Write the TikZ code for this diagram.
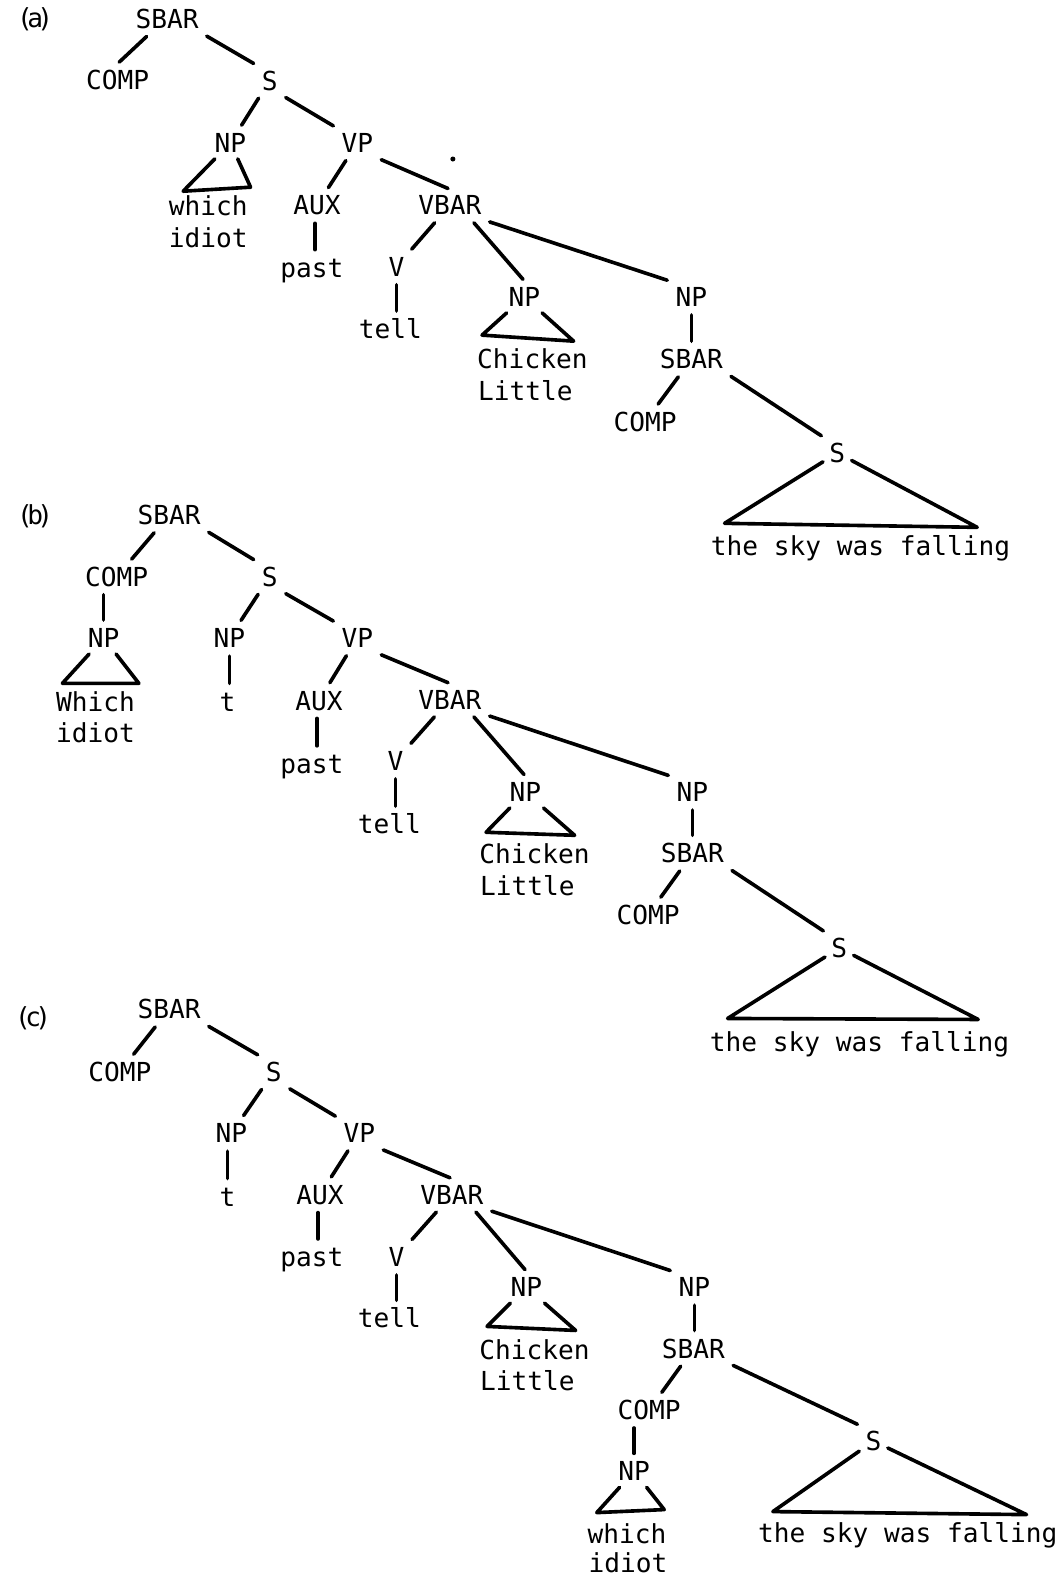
\documentclass[tikz,border=0pt]{standalone}
\usepackage{fontspec}
\setmainfont{DejaVu Sans Mono}
\usetikzlibrary{calc}
\newcommand\treefont{\fontsize{13}{15}\selectfont}
\newcommand\tightlab[1]{(\kern-2.8pt#1\kern-2.8pt)}
\begin{document}
\begin{tikzpicture}[x=0.5pt,y=-0.5pt,
  lab/.style={font=\treefont, inner sep=3pt, text height=9.5pt, text depth=0pt},
  br/.style={line width=1.8pt, line cap=round, line join=round, shorten <=1pt, shorten >=1pt},
  tri/.style={line width=1.8pt, line cap=round, line join=round}]
\useasboundingbox[fill=white] (0,0) rectangle (1056,1568);

% ---------------- (a) ----------------
\node[lab] (aLab) at (35,18) {\tightlab{a}};
\node[lab] (aSBAR) at (166,19) {SBAR};
\node[lab] (aCOMP) at (117,79) {COMP};
\node[lab] (aS) at (268,80) {S};
\node[lab] (aNP) at (229,142) {NP};
\node[lab] (aVP) at (355,142) {VP};
\node[lab] (aW1) at (207,205) {which};
\node[lab] (aW2) at (207,236) {idiot};
\node[lab] (aAUX) at (315,204) {AUX};
\node[lab] (aPast) at (310,266) {past};
\node[lab] (aVBAR) at (447,204) {VBAR};
\node[lab] (aV) at (394,265) {V};
\node[lab] (aTell) at (388,327) {tell};
\node[lab] (aNPb) at (521,295) {NP};
\node[lab] (aCh) at (529,357) {Chicken};
\node[lab] (aLi) at (522,388) {Little};
\node[lab] (aNPc) at (687,295) {NP};
\node[lab] (aSBARb) at (687,357) {SBAR};
\node[lab] (aCOMPb) at (641,419) {COMP};
\node[lab] (aSb) at (832,450) {S};
\node[lab] (aSky) at (855,542) {the sky was falling};
\coordinate (aT1) at (182,190); \coordinate (aT2) at (249,186);
\coordinate (aT3) at (479,333); \coordinate (aT4) at (570,339);
\coordinate (aT5) at (720,520); \coordinate (aT6) at (971,524);
\fill (450,158) circle (2.5);

\draw[br] ($(aSBAR.south)!0.5!(aSBAR.south west)$) -- (aCOMP.north);
\draw[br] (aSBAR.south east) -- (aS.north west);
\draw[br] (aS) -- (aNP);
\draw[br] (aS.south east) -- (aVP.north west);
\draw[br] (aVP) -- (aAUX);
\draw[br] (aVP.south east) -- (aVBAR.north);
\draw[br] (aAUX.south -| 313,0) -- (aPast.north -| 313,0);
\draw[br] (aVBAR) -- (aV);
\draw[br] ($(aVBAR.south)!0.6!(aVBAR.south east)$) -- (aNPb.north);
\draw[br] (aVBAR.south east) -- (aNPc.north west);
\draw[br] (aV.south) -- (aV.south |- aTell.north);
\draw[br] (aNPc.south) -- (aNPc.south |- aSBARb.north);
\draw[br] (aSBARb) -- (aCOMPb);
\draw[br] (aSBARb.south east) -- (aSb.north west);
\draw[tri] (aNP) -- (aT1) -- (aT2) -- (aNP);
\draw[tri] (aNPb) -- (aT3) -- (aT4) -- (aNPb);
\draw[tri] (aSb) -- (aT5) -- (aT6) -- (aSb);

% ---------------- (b) ----------------
\node[lab] (bLab) at (35,512) {\tightlab{b}};
\node[lab] (bSBAR) at (168,512) {SBAR};
\node[lab] (bCOMP) at (116,573) {COMP};
\node[lab] (bS) at (268,573) {S};
\node[lab] (bNPa) at (103,634) {NP};
\node[lab] (bW1) at (95,697) {Which};
\node[lab] (bW2) at (95,728) {idiot};
\node[lab] (bNP) at (228,634) {NP};
\node[lab] (bT) at (226,697) {t};
\node[lab] (bVP) at (355,634) {VP};
\node[lab] (bAUX) at (317,696) {AUX};
\node[lab] (bPast) at (310,759) {past};
\node[lab] (bVBAR) at (447,695) {VBAR};
\node[lab] (bV) at (393,756) {V};
\node[lab] (bTell) at (387,819) {tell};
\node[lab] (bNPb) at (522,787) {NP};
\node[lab] (bCh) at (531,849) {Chicken};
\node[lab] (bLi) at (524,880) {Little};
\node[lab] (bNPc) at (688,787) {NP};
\node[lab] (bSBARb) at (688,848) {SBAR};
\node[lab] (bCOMPb) at (644,909) {COMP};
\node[lab] (bSb) at (834,942) {S};
\node[lab] (bSky) at (854,1035) {the sky was falling};
\coordinate (bT1) at (62,679); \coordinate (bT2) at (138,679);
\coordinate (bT3) at (483,827); \coordinate (bT4) at (571,830);
\coordinate (bT5) at (723,1012); \coordinate (bT6) at (972,1013);

\draw[br] (bSBAR) -- (bCOMP);
\draw[br] (bSBAR.south east) -- (bS.north west);
\draw[br] (bNPa |- bCOMP.south) -- (bNPa.north);
\draw[br] (bS) -- (bNP);
\draw[br] (bS.south east) -- (bVP.north west);
\draw[br] (bNP.south) -- (bNP.south |- bT.north);
\draw[br] (bVP) -- (bAUX);
\draw[br] (bVP.south east) -- (bVBAR.north);
\draw[br] (bAUX.south -| 315,0) -- (bPast.north -| 315,0);
\draw[br] (bVBAR) -- (bV);
\draw[br] ($(bVBAR.south)!0.6!(bVBAR.south east)$) -- (bNPb.north);
\draw[br] (bVBAR.south east) -- (bNPc.north west);
\draw[br] (bV.south) -- (bV.south |- bTell.north);
\draw[br] (bNPc.south) -- (bNPc.south |- bSBARb.north);
\draw[br] (bSBARb) -- (bCOMPb);
\draw[br] (bSBARb.south east) -- (bSb.north west);
\draw[tri] (bNPa) -- (bT1) -- (bT2) -- (bNPa);
\draw[tri] (bNPb) -- (bT3) -- (bT4) -- (bNPb);
\draw[tri] (bSb) -- (bT5) -- (bT6) -- (bSb);

% ---------------- (c) ----------------
\node[lab] (cLab) at (33,1010) {\tightlab{c}};
\node[lab] (cSBAR) at (168,1003) {SBAR};
\node[lab] (cCOMP) at (119,1065) {COMP};
\node[lab] (cS) at (272,1065) {S};
\node[lab] (cNP) at (230,1126) {NP};
\node[lab] (cT) at (226,1189) {t};
\node[lab] (cVP) at (357,1126) {VP};
\node[lab] (cAUX) at (318,1187) {AUX};
\node[lab] (cPast) at (310,1249) {past};
\node[lab] (cVBAR) at (449,1187) {VBAR};
\node[lab] (cV) at (394,1249) {V};
\node[lab] (cTell) at (387,1310) {tell};
\node[lab] (cNPb) at (523,1279) {NP};
\node[lab] (cCh) at (531,1341) {Chicken};
\node[lab] (cLi) at (524,1372) {Little};
\node[lab] (cNPc) at (690,1279) {NP};
\node[lab] (cSBARb) at (689,1340) {SBAR};
\node[lab] (cCOMPb) at (645,1401) {COMP};
\node[lab] (cNPd) at (630,1462) {NP};
\node[lab] (cW1) at (623,1524) {which};
\node[lab] (cW2) at (624,1553) {idiot};
\node[lab] (cSb) at (868,1432) {S};
\node[lab] (cSky) at (902,1523) {the sky was falling};
\coordinate (cT1) at (484,1318); \coordinate (cT2) at (572,1322);
\coordinate (cT3) at (593,1503); \coordinate (cT4) at (660,1500);
\coordinate (cT5) at (768,1502); \coordinate (cT6) at (1020,1505);

\draw[br] (cSBAR) -- (cCOMP);
\draw[br] (cSBAR.south east) -- (cS.north west);
\draw[br] (cS) -- (cNP);
\draw[br] (cS.south east) -- (cVP.north west);
\draw[br] (cT |- cNP.south) -- (cT.north);
\draw[br] (cVP) -- (cAUX);
\draw[br] (cVP.south east) -- (cVBAR.north);
\draw[br] (cAUX.south -| 316,0) -- (cPast.north -| 316,0);
\draw[br] (cVBAR) -- (cV);
\draw[br] ($(cVBAR.south)!0.6!(cVBAR.south east)$) -- (cNPb.north);
\draw[br] (cVBAR.south east) -- (cNPc.north west);
\draw[br] (cV.south) -- (cV.south |- cTell.north);
\draw[br] (cNPc.south) -- (cNPc.south |- cSBARb.north);
\draw[br] (cSBARb) -- (cCOMPb);
\draw[br] (cSBARb.south east) -- (cSb.north west);
\draw[br] (cNPd |- cCOMPb.south) -- (cNPd.north);
\draw[tri] (cNPb) -- (cT1) -- (cT2) -- (cNPb);
\draw[tri] (cNPd) -- (cT3) -- (cT4) -- (cNPd);
\draw[tri] (cSb) -- (cT5) -- (cT6) -- (cSb);
\end{tikzpicture}
\end{document}
